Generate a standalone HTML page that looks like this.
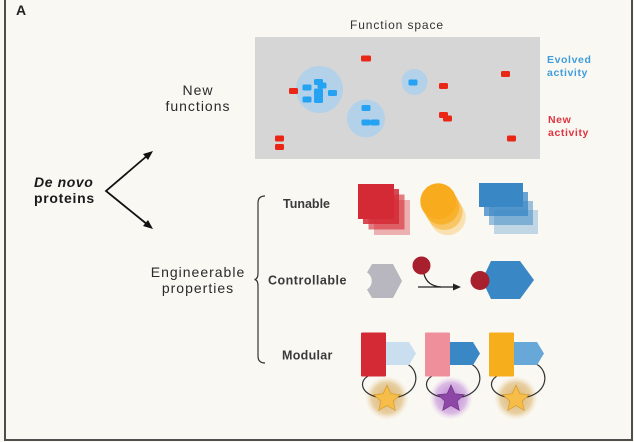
<!DOCTYPE html>
<html>
<head>
<meta charset="utf-8">
<style>
  html,body{margin:0;padding:0;background:#faf8f3;}
  svg{display:block;}
  text{font-family:"Liberation Sans", Arial, sans-serif;}
</style>
</head>
<body>
<svg width="634" height="442" viewBox="0 0 634 442" xmlns="http://www.w3.org/2000/svg">
  <defs>
    <radialGradient id="gold" cx="50%" cy="50%" r="50%">
      <stop offset="0%" stop-color="#d8ad62" stop-opacity="0.95"/>
      <stop offset="70%" stop-color="#e2c288" stop-opacity="0.75"/>
      <stop offset="100%" stop-color="#efdfbf" stop-opacity="0"/>
    </radialGradient>
    <radialGradient id="purp" cx="50%" cy="50%" r="50%">
      <stop offset="0%" stop-color="#b075cb" stop-opacity="0.95"/>
      <stop offset="70%" stop-color="#cfa6df" stop-opacity="0.75"/>
      <stop offset="100%" stop-color="#ecdcf1" stop-opacity="0"/>
    </radialGradient>
  </defs>

  <rect x="0" y="0" width="634" height="442" fill="#faf8f3"/>
  <!-- frame -->
  <rect x="4" y="0" width="2" height="441" fill="#4e4e4e"/>
  <rect x="631" y="0" width="2" height="441" fill="#4e4e4e"/>
  <rect x="4" y="439" width="629" height="2" fill="#4e4e4e"/>

  <text x="16" y="15" font-size="14" font-weight="bold" fill="#222">A</text>

  <!-- Function space -->
  <text x="397" y="29" font-size="12" letter-spacing="0.9" text-anchor="middle" fill="#333">Function space</text>
  <rect x="255" y="37" width="285" height="122" fill="#d6d6d6"/>
  <circle cx="319.5" cy="89.5" r="23.5" fill="#b3d1e8"/>
  <circle cx="366" cy="118.5" r="19" fill="#b3d1e8"/>
  <circle cx="414.5" cy="82" r="13" fill="#b3d1e8"/>

  <g fill="#26a2f2">
    <rect x="302.5" y="84.5" width="9" height="6" rx="1.5"/>
    <rect x="302.5" y="96.5" width="9" height="6" rx="1.5"/>
    <rect x="314" y="79" width="9" height="6" rx="1.5"/>
    <rect x="317.5" y="82.5" width="9" height="6" rx="1.5"/>
    <rect x="314" y="88.5" width="9" height="6" rx="1.5"/>
    <rect x="314" y="97" width="9" height="6" rx="1.5"/>
    <rect x="314" y="92" width="9" height="6" rx="1.5"/>
    <rect x="328" y="90" width="9" height="6" rx="1.5"/>
    <rect x="408.5" y="79.5" width="9" height="6" rx="1.5"/>
    <rect x="361.5" y="105" width="9" height="6" rx="1.5"/>
    <rect x="361.5" y="119.5" width="9" height="6" rx="1.5"/>
    <rect x="370.5" y="119.5" width="9" height="6" rx="1.5"/>
  </g>
  <g fill="#ea2617">
    <rect x="361" y="55.5" width="10" height="6" rx="1.5"/>
    <rect x="501" y="71" width="9" height="6" rx="1.5"/>
    <rect x="289" y="88" width="9" height="6" rx="1.5"/>
    <rect x="439" y="83" width="9" height="6" rx="1.5"/>
    <rect x="439" y="112" width="9" height="6" rx="1.5"/>
    <rect x="443" y="115.5" width="9" height="6" rx="1.5"/>
    <rect x="275" y="135.5" width="9" height="6" rx="1.5"/>
    <rect x="275" y="144" width="9" height="6" rx="1.5"/>
    <rect x="507" y="135.5" width="9" height="6" rx="1.5"/>
  </g>

  <text x="547" y="63" font-size="10.5" font-weight="bold" letter-spacing="0.6" fill="#3f9ddc">Evolved</text>
  <text x="547" y="76" font-size="10.5" font-weight="bold" letter-spacing="0.6" fill="#3f9ddc">activity</text>
  <text x="548" y="123" font-size="10.5" font-weight="bold" letter-spacing="0.6" fill="#e0333f">New</text>
  <text x="548" y="136" font-size="10.5" font-weight="bold" letter-spacing="0.6" fill="#e0333f">activity</text>

  <!-- Left labels -->
  <text x="198" y="95" font-size="14" letter-spacing="1" text-anchor="middle" fill="#2a2a2a">New</text>
  <text x="198" y="111" font-size="14" letter-spacing="1" text-anchor="middle" fill="#2a2a2a">functions</text>

  <text x="34" y="187" font-size="14" font-weight="bold" font-style="italic" letter-spacing="0.6" fill="#1a1a1a">De novo</text>
  <text x="34" y="203" font-size="14" font-weight="bold" letter-spacing="0.7" fill="#1a1a1a">proteins</text>

  <text x="198" y="277" font-size="14" letter-spacing="1" text-anchor="middle" fill="#2a2a2a">Engineerable</text>
  <text x="198" y="293" font-size="14" letter-spacing="1" text-anchor="middle" fill="#2a2a2a">properties</text>

  <!-- branching arrows -->
  <g stroke="#111" stroke-width="1.8" fill="none">
    <polyline points="148,155 106,191 148,225"/>
  </g>
  <polygon points="153,151 143,154 148,160" fill="#111"/>
  <polygon points="153,229 143,226 148,220" fill="#111"/>

  <!-- bracket -->
  <path d="M265,196 Q258,196 258,203 L258,273 Q258,279 254.5,279.5 Q258,280 258,286 L258,356 Q258,363 265,363" stroke="#333" stroke-width="1.2" fill="none"/>

  <text x="283" y="208" font-size="12.5" font-weight="bold" fill="#3a3a3a">Tunable</text>
  <text x="268" y="284.5" font-size="12.5" font-weight="bold" letter-spacing="0.5" fill="#3a3a3a">Controllable</text>
  <text x="282" y="359.5" font-size="12.5" font-weight="bold" letter-spacing="0.3" fill="#3a3a3a">Modular</text>

  <!-- Tunable: red squares -->
  <g fill="#d42a35">
    <rect x="374" y="200" width="36" height="35" opacity="0.35"/>
    <rect x="368.5" y="194.5" width="36" height="35" opacity="0.6"/>
    <rect x="363" y="189" width="36" height="35" opacity="0.85"/>
    <rect x="358" y="184" width="36" height="35"/>
  </g>
  <!-- yellow circles -->
  <g fill="#f8ab1c">
    <circle cx="447.7" cy="217.3" r="18" opacity="0.3"/>
    <circle cx="444.5" cy="212" r="18" opacity="0.5"/>
    <circle cx="441.3" cy="206.6" r="18" opacity="0.75"/>
    <circle cx="438.3" cy="201.3" r="18"/>
  </g>
  <!-- blue rects -->
  <g fill="#3a87c6">
    <rect x="494" y="210" width="44" height="24" opacity="0.3"/>
    <rect x="489" y="201" width="44" height="24" opacity="0.5"/>
    <rect x="484" y="192" width="44" height="24" opacity="0.75"/>
    <rect x="479" y="183" width="44" height="24"/>
  </g>

  <!-- Controllable -->
  <path d="M372,264 L393,264 L402,281 L393,298 L372,298 L367,289.5 A10,10 0 0,0 367,272.5 Z" fill="#b8b7bf"/>
  <circle cx="421.5" cy="265.5" r="9" fill="#a8202e"/>
  <path d="M424,274 Q427,286 441,287" stroke="#222" stroke-width="1.3" fill="none"/>
  <line x1="418" y1="287" x2="455" y2="287" stroke="#222" stroke-width="1.3"/>
  <polygon points="461,287 453,283.5 453,290.5" fill="#222"/>
  <polygon points="482,280 491,261 520,261 534,280 520,299 491,299" fill="#3a87c6"/>
  <circle cx="480" cy="280.5" r="9.5" fill="#a8202e"/>

  <!-- Modular unit 1 -->
  <circle cx="387" cy="398" r="22" fill="url(#gold)"/>
  <path d="M368,376 C358,382 362,394 377,397" stroke="#333" stroke-width="1.2" fill="none"/>
  <path d="M407,364 C420,370 420,392 398,397" stroke="#333" stroke-width="1.2" fill="none"/>
  <rect x="361" y="332.5" width="25" height="44" rx="1" fill="#d42a35"/>
  <polygon points="386,342 409,342 416,353.5 409,365 386,365" fill="#c9dfef"/>
  <polygon transform="translate(387,399) scale(1.08)" points="0,-13 3.53,-4.85 12.36,-4.02 5.71,1.85 7.64,10.52 0,6 -7.64,10.52 -5.71,1.85 -12.36,-4.02 -3.53,-4.85" fill="#f6bd48" stroke="#d49a2a" stroke-width="0.6"/>

  <!-- Modular unit 2 -->
  <circle cx="451" cy="398" r="22" fill="url(#purp)"/>
  <path d="M432,376 C422,382 426,394 441,397" stroke="#333" stroke-width="1.2" fill="none"/>
  <path d="M471,364 C484,370 484,392 462,397" stroke="#333" stroke-width="1.2" fill="none"/>
  <rect x="425" y="332.5" width="25" height="44" rx="1" fill="#ef8f9c"/>
  <polygon points="450,342 473,342 480,353.5 473,365 450,365" fill="#3a87c6"/>
  <polygon transform="translate(451,399) scale(1.08)" points="0,-13 3.53,-4.85 12.36,-4.02 5.71,1.85 7.64,10.52 0,6 -7.64,10.52 -5.71,1.85 -12.36,-4.02 -3.53,-4.85" fill="#8d47a6" stroke="#6e3384" stroke-width="0.6"/>

  <!-- Modular unit 3 -->
  <circle cx="516" cy="398" r="22" fill="url(#gold)"/>
  <path d="M497,376 C487,382 491,394 506,397" stroke="#333" stroke-width="1.2" fill="none"/>
  <path d="M536,364 C549,370 549,392 527,397" stroke="#333" stroke-width="1.2" fill="none"/>
  <rect x="489" y="332.5" width="25" height="44" rx="1" fill="#f7ae1c"/>
  <polygon points="514,342 537,342 544,353.5 537,365 514,365" fill="#67a8d8"/>
  <polygon transform="translate(516,399) scale(1.08)" points="0,-13 3.53,-4.85 12.36,-4.02 5.71,1.85 7.64,10.52 0,6 -7.64,10.52 -5.71,1.85 -12.36,-4.02 -3.53,-4.85" fill="#f6bd48" stroke="#d49a2a" stroke-width="0.6"/>
</svg>
</body>
</html>
